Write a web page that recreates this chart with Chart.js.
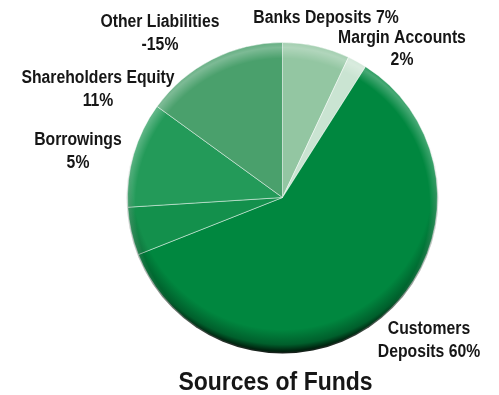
<!DOCTYPE html>
<html>
<head>
<meta charset="utf-8">
<script src="https://cdn.jsdelivr.net/npm/chart.js@4"></script>
<style>
  html, body { margin: 0; padding: 0; background: #ffffff; }
  #wrap { width: 499px; height: 395px; }
</style>
</head>
<body>
<div id="wrap"><canvas id="chart"></canvas></div>
<script>
// Sources of funds, share of total (%)
const categories = ['Banks Deposits', 'Margin Accounts', 'Customers Deposits', 'Borrowings', 'Shareholders Equity', 'Other Liabilities'];
const shares = [7, 2, 60, 5, 11, -15];
const sliceColors = ['#93c6a2', '#cae4d2', '#00873f', '#13904c', '#239a59', '#4aa06c'];
const chartTitle = 'Sources of Funds';

const FONT_FAMILY = '"Liberation Sans", Arial, sans-serif';
const TEXT_COLOR = '#161616';

// How each slice label is broken into lines and where it sits, relative to the pie centre
const labelLayout = [
  { split: 'one',  dx: 43.5,   dy: -174.5 },
  { split: 'two',  dx: 119.5,  dy: -155 },
  { split: 'word', dx: 146.5,  dy: 136.5 },
  { split: 'two',  dx: -204.5, dy: -52.5 },
  { split: 'two',  dx: -184.5, dy: -114.5 },
  { split: 'two',  dx: -122.5, dy: -170.5 }
];
const LINE_GAP = 22.5;

function labelLines(i) {
  const name = categories[i];
  const pct = shares[i] + '%';
  const mode = labelLayout[i].split;
  if (mode === 'one') return [name + ' ' + pct];
  if (mode === 'word') {
    const parts = name.split(' ');
    return [parts[0], parts.slice(1).join(' ') + ' ' + pct];
  }
  return [name, pct];
}

// Draws centred text narrowed horizontally, for a condensed look
function condensedText(ctx, text, x, y, size, squeeze) {
  ctx.save();
  ctx.translate(x, y);
  ctx.scale(squeeze, 1);
  ctx.font = 'bold ' + size + 'px ' + FONT_FAMILY;
  ctx.fillStyle = TEXT_COLOR;
  ctx.textAlign = 'center';
  ctx.textBaseline = 'alphabetic';
  ctx.fillText(text, 0, 0);
  ctx.restore();
}

// Rim shading: a dark band along the lower edge and a soft highlight along the upper edge
const rimShade = {
  id: 'rimShade',
  afterDatasetsDraw(chart) {
    const arc = chart.getDatasetMeta(0).data[0];
    if (!arc) return;
    const { x, y, outerRadius: r } = arc;
    const ctx = chart.ctx;
    ctx.save();
    ctx.beginPath();
    ctx.arc(x, y, r + 1, 0, Math.PI * 2);
    ctx.clip();

    const ds = 18;
    const Rs = r + ds + 1;
    const gs = ctx.createRadialGradient(x, y - ds, 0, x, y - ds, Rs);
    gs.addColorStop(0, 'rgba(0,20,8,0)');
    gs.addColorStop((Rs - 24) / Rs, 'rgba(0,20,8,0)');
    gs.addColorStop((Rs - 9) / Rs, 'rgba(0,20,8,0.35)');
    gs.addColorStop((Rs - 3) / Rs, 'rgba(0,15,5,0.8)');
    gs.addColorStop(1, 'rgba(0,10,4,0.95)');
    ctx.fillStyle = gs;
    ctx.fillRect(x - r - 2, y - r - 2, 2 * r + 4, 2 * r + 4);

    const dh = 8;
    const Rh = r + dh + 1;
    const gh = ctx.createRadialGradient(x, y + dh, 0, x, y + dh, Rh);
    gh.addColorStop(0, 'rgba(255,255,255,0)');
    gh.addColorStop((Rh - 17) / Rh, 'rgba(255,255,255,0)');
    gh.addColorStop((Rh - 6) / Rh, 'rgba(255,255,255,0.28)');
    gh.addColorStop(1, 'rgba(255,255,255,0.12)');
    ctx.fillStyle = gh;
    ctx.fillRect(x - r - 2, y - r - 2, 2 * r + 4, 2 * r + 4);
    ctx.restore();
  }
};

// Category and value text placed around the pie, and the caption below it
const sliceLabels = {
  id: 'sliceLabels',
  afterDraw(chart) {
    const arc = chart.getDatasetMeta(0).data[0];
    if (!arc) return;
    const { x, y, outerRadius: r } = arc;
    const ctx = chart.ctx;
    categories.forEach((_, i) => {
      const pos = labelLayout[i];
      labelLines(i).forEach((line, k) => {
        condensedText(ctx, line, x + pos.dx, y + pos.dy + k * LINE_GAP, 17.5, 0.9);
      });
    });
    condensedText(ctx, chartTitle, x - 7, y + r + 37, 25, 0.92);
  }
};

new Chart(document.getElementById('chart'), {
  type: 'pie',
  data: {
    labels: categories,
    datasets: [{
      data: shares,
      backgroundColor: sliceColors,
      borderColor: 'rgba(255,255,255,0.45)',
      borderWidth: 1,
      hoverOffset: 0
    }]
  },
  options: {
    responsive: true,
    maintainAspectRatio: false,
    animation: false,
    events: [],
    layout: { padding: { left: 127, right: 61, top: 42, bottom: 42 } },
    plugins: {
      legend: { display: false },
      tooltip: { enabled: false },
      title: { display: false }
    }
  },
  plugins: [rimShade, sliceLabels]
});
</script>
</body>
</html>
